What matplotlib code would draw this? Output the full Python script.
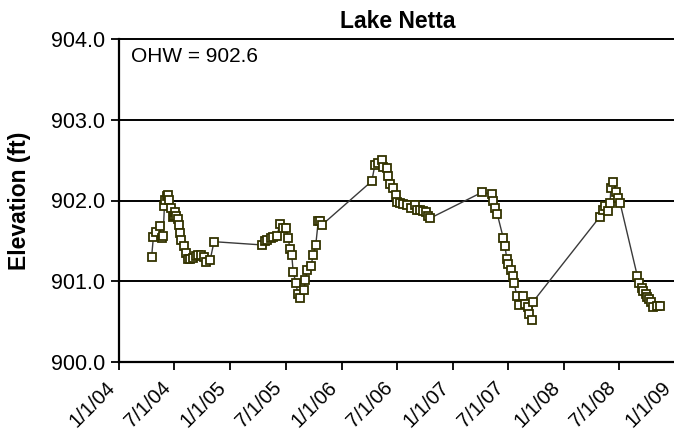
import matplotlib
matplotlib.use("Agg")
import matplotlib.pyplot as plt
import pandas as pd

plt.rcParams['font.family'] = ['Liberation Sans', 'DejaVu Sans']

title = "Lake Netta"
ylabel = "Elevation (ft)"
note = "OHW = 902.6"

dates = [
    "2004-04-17", "2004-04-23", "2004-04-30", "2004-05-15", "2004-05-20", "2004-05-25",
    "2004-05-29", "2004-06-01", "2004-06-05", "2004-06-11", "2004-06-14", "2004-06-19",
    "2004-06-26", "2004-06-29", "2004-07-03", "2004-07-07", "2004-07-12", "2004-07-16",
    "2004-07-20", "2004-07-24", "2004-08-01", "2004-08-08", "2004-08-14", "2004-08-21",
    "2004-09-01", "2004-09-10", "2004-09-17", "2004-09-26", "2004-10-07", "2004-10-13",
    "2004-10-26", "2004-11-08",
    "2005-04-13", "2005-04-24", "2005-05-02", "2005-05-13", "2005-05-22", "2005-06-02",
    "2005-06-13", "2005-06-21", "2005-07-02", "2005-07-10", "2005-07-15", "2005-07-21",
    "2005-07-26", "2005-08-04", "2005-08-10", "2005-08-17", "2005-08-30", "2005-09-04",
    "2005-09-10", "2005-09-22", "2005-09-30", "2005-10-08", "2005-10-16", "2005-10-22",
    "2005-10-29",
    "2006-04-10", "2006-04-20", "2006-05-01", "2006-05-12", "2006-05-18", "2006-05-31",
    "2006-06-03", "2006-06-09", "2006-06-20", "2006-06-27", "2006-07-02", "2006-07-11",
    "2006-07-22", "2006-08-03", "2006-08-17", "2006-08-30", "2006-09-04", "2006-09-15",
    "2006-09-26", "2006-10-05", "2006-10-12", "2006-10-18",
    "2007-04-06", "2007-05-09", "2007-05-14", "2007-05-19", "2007-05-27", "2007-06-16",
    "2007-06-21", "2007-06-27", "2007-07-02", "2007-07-10", "2007-07-18", "2007-07-21",
    "2007-07-30", "2007-08-07", "2007-08-20", "2007-08-26", "2007-09-04", "2007-09-09",
    "2007-09-17", "2007-09-20",
    "2008-04-28", "2008-05-07", "2008-05-15", "2008-05-25", "2008-05-31", "2008-06-03",
    "2008-06-11", "2008-06-20", "2008-06-25", "2008-07-03", "2008-08-29", "2008-09-04",
    "2008-09-12", "2008-09-17", "2008-09-25", "2008-09-30", "2008-10-07", "2008-10-13",
    "2008-10-20", "2008-10-31", "2008-11-11",
]

elevation = [
    901.30, 901.55, 901.61, 901.68, 901.54, 901.56,
    901.93, 902.01, 902.05, 902.07, 902.01, 901.91,
    901.79, 901.81, 901.86, 901.81, 901.77, 901.70,
    901.60, 901.51, 901.44, 901.35, 901.28, 901.28,
    901.29, 901.31, 901.33, 901.32, 901.30, 901.24,
    901.26, 901.49,
    901.45, 901.50, 901.51, 901.54, 901.55, 901.56,
    901.71, 901.66, 901.66, 901.53, 901.40, 901.33,
    901.11, 900.98, 900.84, 900.79, 900.89, 901.02,
    901.14, 901.19, 901.33, 901.45, 901.74, 901.75,
    901.70,
    902.24, 902.44, 902.47, 902.50, 902.42, 902.40,
    902.30, 902.20, 902.15, 902.07, 901.98, 901.97,
    901.96, 901.95, 901.91, 901.94, 901.88, 901.88,
    901.87, 901.86, 901.81, 901.78,
    902.10, 902.08, 901.99, 901.91, 901.83, 901.53,
    901.44, 901.28, 901.21, 901.14, 901.06, 900.98,
    900.82, 900.70, 900.82, 900.72, 900.68, 900.59,
    900.52, 900.74,
    901.80, 901.88, 901.93, 901.87, 901.97, 902.15,
    902.23, 902.11, 902.03, 901.97, 901.06, 900.98,
    900.92, 900.88, 900.84, 900.81, 900.78, 900.74,
    900.68, 900.69, 900.69,
]

xtick_dates = ["2004-01-01", "2004-07-01", "2005-01-01", "2005-07-01", "2006-01-01",
               "2006-07-01", "2007-01-01", "2007-07-01", "2008-01-01", "2008-07-01",
               "2009-01-01"]
xtick_labels = ["1/1/04", "7/1/04", "1/1/05", "7/1/05", "1/1/06", "7/1/06",
                "1/1/07", "7/1/07", "1/1/08", "7/1/08", "1/1/09"]
yticks = [900.0, 901.0, 902.0, 903.0, 904.0]

x = pd.to_datetime(dates)
xt = pd.to_datetime(xtick_dates)

fig = plt.figure(figsize=(6.74, 4.38), dpi=100)
ax = fig.add_axes([119 / 674, (438 - 362) / 438, (675.5 - 119) / 674, (362 - 39) / 438])

ax.plot(x, elevation, color='#3a3a3a', linewidth=1.0, marker='s', markersize=5.3,
        markerfacecolor='white', markeredgecolor='#333300', markeredgewidth=1.3,
        zorder=3)

ax.set_xlim(xt[0], xt[-1])
ax.set_ylim(yticks[0], yticks[-1])
ax.set_yticks(yticks)
ax.set_yticklabels([f"{v:.1f}" for v in yticks], fontsize=15.5)
ax.set_xticks(xt)
ax.set_xticklabels([])

# rotated date labels, Excel-style placement (ending just left of each tick)
for d, lab in zip(xt, xtick_labels):
    ax.annotate(lab, xy=(d, 0), xycoords=('data', 'axes fraction'),
                xytext=(-14 * 0.72, -16 * 0.72), textcoords='offset points',
                rotation=45, ha='right', va='top', rotation_mode='anchor',
                fontsize=14.5, annotation_clip=False)

for v in yticks[1:]:
    ax.axhline(v, color='black', linewidth=1.4, zorder=1, clip_on=False)

for s in ['top', 'right']:
    ax.spines[s].set_visible(False)
for s in ['left', 'bottom']:
    ax.spines[s].set_linewidth(1.6)

ax.tick_params(axis='both', direction='out', length=6, width=1.3, color='black')
ax.tick_params(axis='y', pad=4)

ax.set_title(title, fontsize=16.5, fontweight='bold', pad=8)
ax.set_ylabel(ylabel, fontsize=16.5, fontweight='bold')
ax.yaxis.set_label_coords((31 - 119) / 556.5, 0.5)
ax.text(0.021, 0.975, note, transform=ax.transAxes, fontsize=15, ha='left', va='top')

fig.savefig("out.png", dpi=100)
